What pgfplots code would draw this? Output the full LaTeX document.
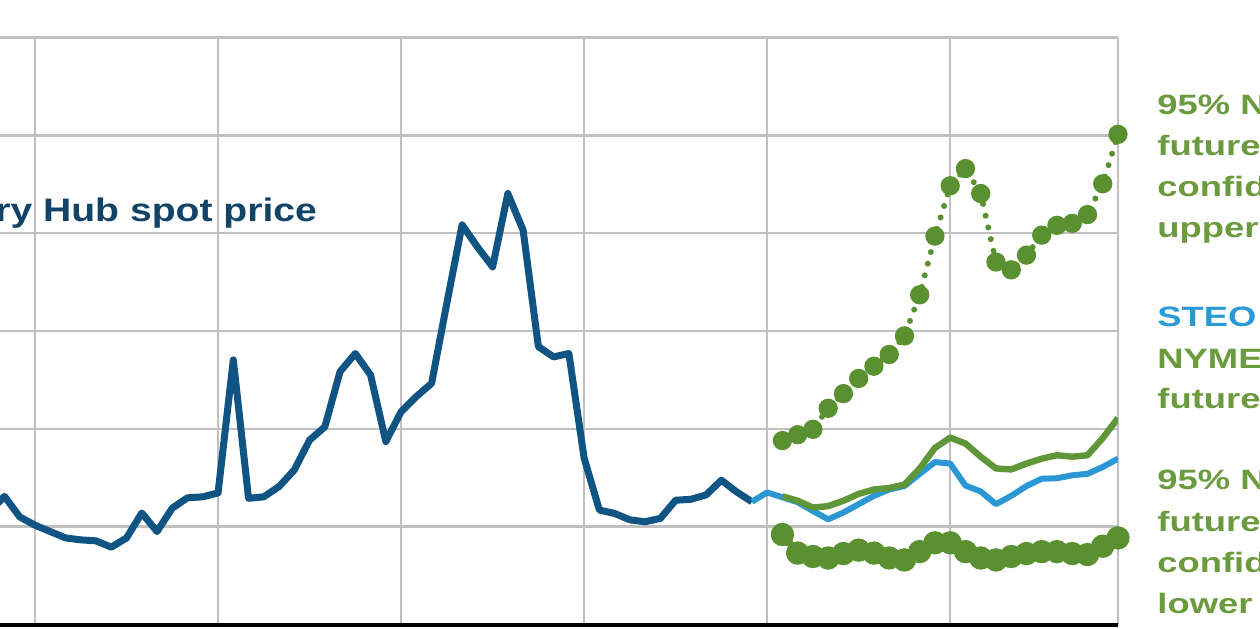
\documentclass[border=0pt]{standalone}
\usepackage{fontspec}
\usepackage{pgfplots}
\pgfplotsset{compat=1.18}
\newfontfamily\lab[FakeStretch=1.3]{Liberation Sans Bold}
\newfontfamily\hublabfont[FakeStretch=1.2]{Liberation Sans Bold}
\definecolor{gridgray}{RGB}{192,192,192}
\definecolor{histblue}{RGB}{15,84,130}
\definecolor{steoblue}{RGB}{43,152,213}
\definecolor{futgreen}{RGB}{95,150,55}
\definecolor{dotgreen}{RGB}{90,145,48}
\definecolor{labgreen}{RGB}{108,155,63}
\definecolor{labblue}{RGB}{42,154,214}
\definecolor{hublab}{RGB}{18,68,104}
\begin{document}
\begin{tikzpicture}
\begin{axis}[at={(0,0)}, anchor=south west, scale only axis,
  width=559pt, height=293.5pt,
  xmin=-2.295, xmax=71, ymin=0, ymax=12,
  xtick={0,12,24,36,48,60,71}, ytick={2,4,6,8,10,12},
  xticklabels={}, yticklabels={}, major tick length=0pt,
  grid=major, grid style={draw=gridgray, line width=1.2pt},
  extra y ticks={0}, extra y tick labels={},
  extra y tick style={grid style={draw=black, line width=2pt}},
  axis line style={draw=none}]
% historical Henry Hub spot price
\addplot[color=histblue, line width=3.5pt, line join=round] coordinates {
(-3,2.30) (-2,2.62) (-1,2.20) (0,2.03) (1,1.90) (2,1.77) (3,1.73) (4,1.71)
(5,1.58) (6,1.77) (7,2.28) (8,1.90) (9,2.38) (10,2.59) (11,2.61) (12,2.69)
(13,5.41) (14,2.58) (15,2.61) (16,2.82) (17,3.16) (18,3.77) (19,4.04) (20,5.17)
(21,5.54) (22,5.10) (23,3.74) (24,4.35) (25,4.66) (26,4.93) (27,6.57) (28,8.17)
(29,7.72) (30,7.31) (31,8.81) (32,8.06) (33,5.68) (34,5.47) (35,5.54) (36,3.40)
(37,2.34) (38,2.27) (39,2.14) (40,2.10) (41,2.17) (42,2.54) (43,2.56) (44,2.65)
(45,2.95) (46,2.71) (47,2.51)};
% upper CI
\addplot[color=dotgreen, line width=3pt, line cap=round, dash pattern=on 0pt off 6pt, mark=*, mark size=3.3pt, mark options={solid, fill=dotgreen, draw=dotgreen}] coordinates {
(49,3.76) (50,3.88) (51,3.99) (52,4.42) (53,4.72) (54,5.03) (55,5.28) (56,5.52)
(57,5.90) (58,6.74) (59,7.94) (60,8.97) (61,9.32) (62,8.81) (63,7.41) (64,7.25)
(65,7.55) (66,7.96) (67,8.16) (68,8.20) (69,8.38) (70,9.01) (71,10.02)};
% lower CI
\addplot[color=dotgreen, line width=5pt, line cap=round, dash pattern=on 0pt off 4.5pt, mark=*, mark size=3.3pt, mark options={solid, fill=dotgreen, draw=dotgreen}] coordinates {
(49,1.84) (50,1.46) (51,1.39) (52,1.36) (53,1.45) (54,1.52) (55,1.46) (56,1.36)
(57,1.32) (58,1.49) (59,1.67) (60,1.67) (61,1.49) (62,1.36) (63,1.32) (64,1.39)
(65,1.45) (66,1.49) (67,1.49) (68,1.45) (69,1.43) (70,1.60) (71,1.77)};
% STEO forecast
\addplot[color=steoblue, line width=3pt, line join=round] coordinates {
(47,2.51) (48,2.70) (49,2.60) (50,2.50) (51,2.32) (52,2.15) (53,2.29) (54,2.46)
(55,2.63) (56,2.76) (57,2.83) (58,3.08) (59,3.32) (60,3.29) (61,2.84) (62,2.72)
(63,2.46) (64,2.63) (65,2.83) (66,2.98) (67,2.99) (68,3.05) (69,3.08) (70,3.22)
(71,3.39)};
% NYMEX futures
\addplot[color=futgreen, line width=3.2pt, line join=round] coordinates {
(49,2.62) (50,2.53) (51,2.39) (52,2.42) (53,2.53) (54,2.67) (55,2.76) (56,2.79)
(57,2.86) (58,3.19) (59,3.61) (60,3.82) (61,3.70) (62,3.43) (63,3.19) (64,3.17)
(65,3.29) (66,3.39) (67,3.46) (68,3.43) (69,3.46) (70,3.81) (71,4.22)};
\end{axis}
\tikzset{rl/.style={anchor=base west, inner sep=0pt, text=labgreen, font={\lab\fontsize{14}{16}\selectfont}}}
\node[anchor=base west, inner sep=0pt, text=hublab, font={\hublabfont\fontsize{16.3}{19}\selectfont}] at (-39.5pt,201.5pt) {Henry Hub spot price};
\node[rl] at (578.5pt,254.75pt) {95\% NYMEX};
\node[rl] at (578.5pt,234.25pt) {futures price};
\node[rl] at (578.5pt,213.75pt) {confidence interval};
\node[rl] at (578.5pt,193.25pt) {upper bound};
\node[rl, text=labblue] at (578.5pt,148.75pt) {STEO forecast};
\node[rl] at (578.5pt,128.25pt) {NYMEX};
\node[rl] at (578.5pt,107.75pt) {futures price};
\node[rl] at (578.5pt,67.25pt) {95\% NYMEX};
\node[rl] at (578.5pt,46.75pt) {futures price};
\node[rl] at (578.5pt,26.25pt) {confidence interval};
\node[rl] at (578.5pt,5.75pt) {lower bound};
\pgfresetboundingbox
\path[use as bounding box] (0pt,-1.75pt) rectangle (630pt,312.25pt);
\end{tikzpicture}
\end{document}
